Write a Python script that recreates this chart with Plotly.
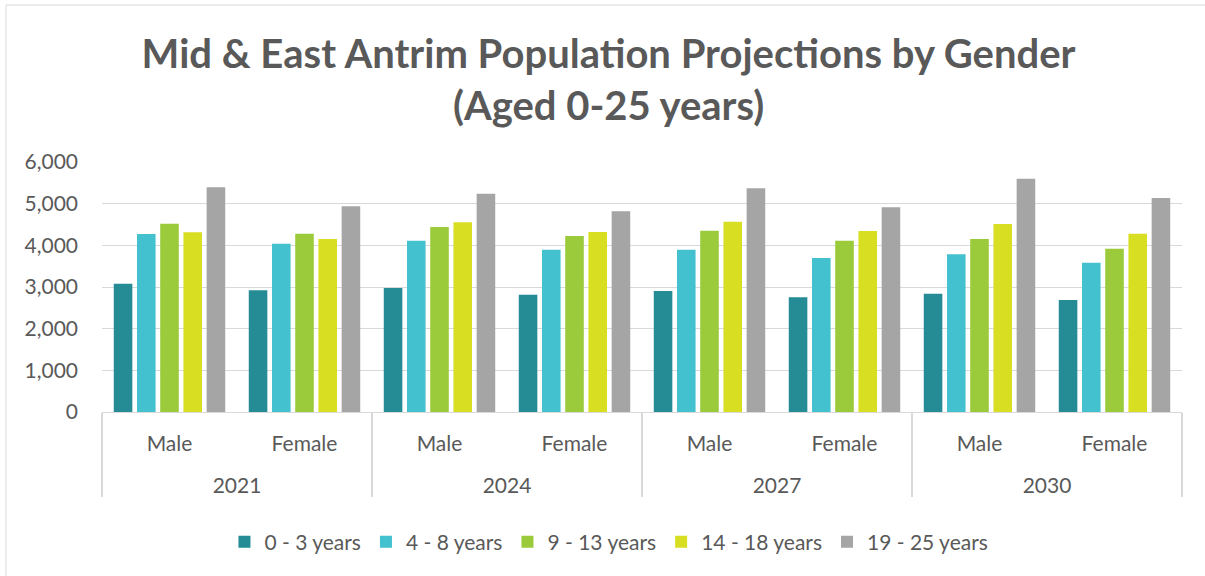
import plotly.graph_objects as go

years = ["2021", "2021", "2024", "2024", "2027", "2027", "2030", "2030"]
genders = ["Male", "Female", "Male", "Female", "Male", "Female", "Male", "Female"]

series_names = ["0 - 3 years", "4 - 8 years", "9 - 13 years", "14 - 18 years", "19 - 25 years"]
age_0_3 = [3080, 2920, 2976, 2816, 2904, 2752, 2840, 2688]
age_4_8 = [4272, 4040, 4112, 3896, 3896, 3696, 3784, 3584]
age_9_13 = [4520, 4280, 4440, 4224, 4352, 4112, 4152, 3920]
age_14_18 = [4312, 4152, 4552, 4320, 4568, 4344, 4512, 4280]
age_19_25 = [5392, 4936, 5240, 4816, 5368, 4912, 5600, 5136]
colors = ["#258C96", "#43C1CE", "#9BCA3B", "#D8DE21", "#A5A5A5"]

y_ticks = [0, 1000, 2000, 3000, 4000, 5000, 6000]
y_tick_labels = ["0", "1,000", "2,000", "3,000", "4,000", "5,000", "6,000"]

title_text = "Mid & East Antrim Population Projections by Gender<br>(Aged 0-25 years)"

FONT = "Lato, Carlito, Calibri, sans-serif"
TXT = "#595959"

# outer (year) labels get a leading blank line for extra spacing below the inner labels
year_labels = ["<br>" + y for y in years]

fig = go.Figure()
for name, vals, col in zip(series_names,
                           [age_0_3, age_4_8, age_9_13, age_14_18, age_19_25],
                           colors):
    fig.add_trace(go.Bar(x=[year_labels, genders], y=vals, name=name,
                         marker=dict(color=col, line=dict(width=0))))

fig.update_layout(
    width=1205, height=576,
    paper_bgcolor="white", plot_bgcolor="white",
    barmode="group", bargap=0.14, bargroupgap=0.2,
    margin=dict(l=102, r=23, t=162, b=164, autoexpand=False),
    font=dict(family=FONT, color=TXT, size=21),
    title=dict(text="<b>" + title_text + "</b>", x=0.505, xanchor="center",
               yref="container", y=1 - 68 / 576, yanchor="middle",
               font=dict(family=FONT, size=40, color=TXT, weight=900)),
    legend=dict(orientation="h", x=0.4694, xanchor="center", y=-0.52, yanchor="middle",
                font=dict(size=21, color=TXT), itemwidth=30, traceorder="normal"),
    showlegend=True,
    xaxis=dict(type="multicategory", showline=True, linecolor="#D9D9D9", linewidth=1,
               showdividers=True, dividercolor="#D9D9D9", dividerwidth=2,
               tickfont=dict(size=21, color=TXT), ticks="", showgrid=False,
               ticklabelstandoff=13),
    yaxis=dict(range=[0, 6000], tickvals=y_ticks, ticktext=y_tick_labels,
               showgrid=True, gridcolor="#D9D9D9", gridwidth=1, zeroline=False,
               showline=False, ticks="", ticklabelstandoff=23,
               tickfont=dict(size=21, color=TXT)),
    shapes=[dict(type="rect", xref="paper", yref="paper",
                 x0=(6 - 102) / 1080, x1=1.05, y0=-1.0, y1=(412 - 5) / 250,
                 line=dict(color="#D9D9D9", width=1), fillcolor="rgba(0,0,0,0)",
                 layer="below")],
)

fig.write_html("out.html", config={"displayModeBar": False},
               post_script="document.body.style.margin='0';")
